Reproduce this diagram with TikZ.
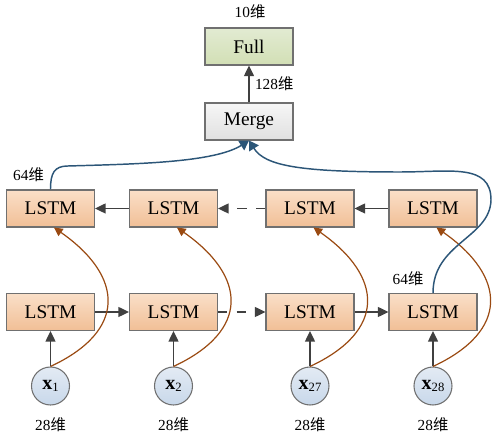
\documentclass[tikz,border=0pt]{standalone}
\usepackage{fontspec}
\setmainfont{Liberation Serif}
\newfontfamily\cjk{Noto Sans CJK SC}
\usepackage{xcolor}
\usetikzlibrary{arrows.meta, positioning, calc}

\definecolor{lstmtop}{HTML}{FADFC8}
\definecolor{lstmbot}{HTML}{F1BF96}
\definecolor{fulltop}{HTML}{E2EBD2}
\definecolor{fullbot}{HTML}{D2DFB5}
\definecolor{mergetop}{HTML}{F6F6F6}
\definecolor{mergebot}{HTML}{E0E0E0}
\definecolor{intop}{HTML}{E3EBF4}
\definecolor{inbot}{HTML}{C8D8EA}
\definecolor{edgegray}{HTML}{707070}
\definecolor{arrowgray}{HTML}{404040}
\definecolor{curvebrown}{HTML}{9A4A12}
\definecolor{curveblue}{HTML}{2C5678}

\newcommand{\wei}[1]{#1{\cjk 维}}

\tikzset{
  layerbox/.style={draw=edgegray, line width=0.8pt, minimum width=66pt, minimum height=27.75pt,
    inner sep=0pt, font=\fontsize{14.5}{16}\selectfont},
  lstmbox/.style={layerbox, top color=lstmtop, bottom color=lstmbot},
  inputnode/.style={circle, draw=edgegray, line width=0.8pt, minimum size=28.5pt, inner sep=0pt,
    top color=intop, bottom color=inbot},
  dimlabel/.style={font=\fontsize{11.5}{13}\selectfont, inner sep=0pt, text=black},
  flow/.style={arrowgray, line width=1.1pt, -{Triangle[length=8pt, width=7.5pt]}},
  skipflow/.style={flow, dash pattern=on 7pt off 7pt},
  seqcurve/.style={curvebrown, line width=0.9pt, -{Triangle[length=6.5pt, width=6.5pt]}},
  outcurve/.style={curveblue, line width=1.1pt, -{Triangle[length=7pt, width=8.5pt]}}
}

\newcommand{\xin}[1]{{\fontsize{15}{16}\selectfont\textbf{x}}{\fontsize{9.5}{10}\selectfont\raisebox{-1pt}{#1}}}

\begin{document}
\begin{tikzpicture}[x=0.75pt, y=0.75pt]
  \useasboundingbox (0,0) rectangle (495,438);

  % Output layers
  \node[layerbox, top color=fulltop, bottom color=fullbot] (full) at (249,391.5) {Full};
  \node[layerbox, top color=mergetop, bottom color=mergebot] (merge) at (249,316.5) {Merge};
  \node[dimlabel] at (250,426) {\wei{10}};
  \draw[flow] (merge) -- (full) node[dimlabel, midway, right=4pt] {\wei{128}};

  % Backward LSTM row
  \foreach \i/\x in {1/50.5, 2/173.5, 3/310, 4/433}
    \node[lstmbox] (t\i) at (\x,229.5) {LSTM};

  % Forward LSTM row
  \foreach \i/\x in {1/50.5, 2/173.5, 3/310, 4/433}
    \node[lstmbox] (b\i) at (\x,126) {LSTM};

  % Inputs
  \foreach \i/\x/\n in {1/50.5/1, 2/173.5/2, 3/310/27, 4/433/28} {
    \node[inputnode] (c\i) at (\x,52) {\xin{\n}};
    \node[dimlabel] at (\x,13) {\wei{28}};
    \draw[flow] (c\i) -- (b\i);
  }

  % Horizontal connections
  \draw[flow] (b1) -- (b2);
  \draw[skipflow] (b2) -- (b3);
  \draw[flow] (b3) -- (b4);
  \draw[flow] (t4) -- (t3);
  \draw[skipflow] (t3) -- (t2);
  \draw[flow] (t2) -- (t1);

  % Inputs to the backward row
  \foreach \i in {1,...,4}
    \draw[seqcurve] (c\i.north) .. controls +(25:85) and +(-35:85) .. ([xshift=2.6pt]t\i.south);

  % Last states to Merge
  \coordinate (bend1) at (68,272);
  \draw[outcurve] (t1.north) .. controls +(0,16) and +(-14,0) .. (bend1)
    .. controls +(70,2) and +(-35,-22) .. (merge.south);
  \node[dimlabel] at (28.5,263) {\wei{64}};

  \coordinate (turn) at (491,238);
  \coordinate (top) at (400,266);
  \draw[outcurve] (b4.north) .. controls (433,195) and (490,200) .. (turn)
    .. controls (491,275) and (450,266) .. (top)
    .. controls (300,266) and (265,272) .. (merge.south);
  \node[dimlabel] at (408,159) {\wei{64}};
\end{tikzpicture}
\end{document}
